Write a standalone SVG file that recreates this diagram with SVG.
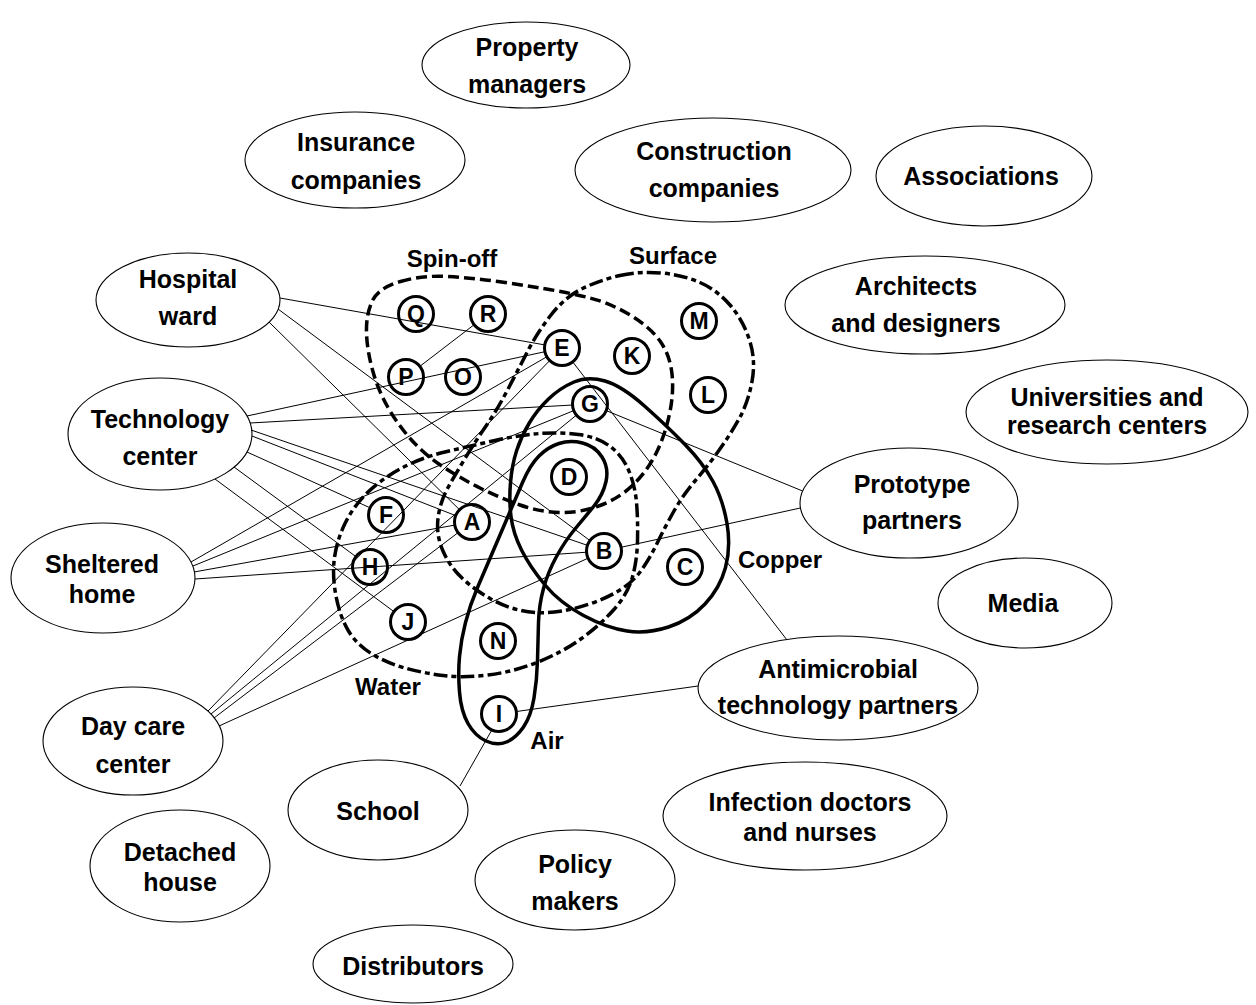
<svg xmlns="http://www.w3.org/2000/svg" width="1256" height="1005" viewBox="0 0 1256 1005">
<style>
.bg{fill:#fff}
.stk ellipse{fill:none;stroke:#000;stroke-width:1.1}
text{font-family:"Liberation Sans",Arial,sans-serif;font-weight:bold;fill:#000;text-anchor:middle}
.t{font-size:25px}
.vl{font-size:24px}
.lt{font-size:23px}
.ven{fill:none;stroke:#000;stroke-width:3.5;stroke-linejoin:round}
.spin{stroke-dasharray:11 5}
.dd{stroke-dasharray:14 4 5 4}
.lc circle{fill:none;stroke:#000;stroke-width:3}
#connectors line{stroke:#000;stroke-width:1}
</style>
<rect class="bg" x="0" y="0" width="1256" height="1005"/>

<g id="connectors">
<line x1="280" y1="298" x2="545.3" y2="345"/>
<line x1="278" y1="309" x2="590.4" y2="540.9"/>
<line x1="269" y1="322" x2="459.9" y2="510.1"/>
<line x1="247" y1="416" x2="545.4" y2="351.6"/>
<line x1="250" y1="423" x2="573" y2="405"/>
<line x1="251" y1="430" x2="587.9" y2="545.5"/>
<line x1="252" y1="436" x2="456.2" y2="515.8"/>
<line x1="247" y1="452" x2="370.5" y2="508"/>
<line x1="234" y1="467" x2="356.3" y2="556.9"/>
<line x1="215" y1="479" x2="394.3" y2="611.9"/>
<line x1="191" y1="562" x2="547.3" y2="356.5"/>
<line x1="193" y1="566" x2="574.3" y2="410.4"/>
<line x1="194" y1="572" x2="455.3" y2="525"/>
<line x1="195" y1="579" x2="587" y2="552.2"/>
<line x1="208" y1="711" x2="550.1" y2="360.2"/>
<line x1="211" y1="714" x2="576.8" y2="414.8"/>
<line x1="214" y1="718" x2="458.5" y2="532.3"/>
<line x1="219" y1="726" x2="588.5" y2="558"/>
<line x1="474.5" y1="324.4" x2="419.5" y2="366.6"/>
<line x1="572.4" y1="361.5" x2="787" y2="640"/>
<line x1="605.7" y1="410.4" x2="802.6" y2="491"/>
<line x1="620.6" y1="547.4" x2="800.4" y2="508"/>
<line x1="515.8" y1="711.6" x2="698" y2="686"/>
<line x1="492.1" y1="729.5" x2="460" y2="786"/>
</g>

<g id="venn-spinoff">
<path class="ven spin" d="M400.5,281.5 Q423,275 448,276.5 Q473,278 498,281.5 Q523,285 546.5,289 Q570,293 590,298 Q610,303 630,315 Q650,327 660,341 Q670,355 672,374 Q674,393 669.5,414 Q665,435 656.5,452.5 Q648,470 634,484 Q620,498 600,505.5 Q580,513 560,512.5 Q540,512 520,505 Q500,498 480,488 Q460,478 442.5,466.5 Q425,455 411.5,440 Q398,425 388,407.5 Q378,390 372.5,370 Q367,350 366.5,332.5 Q366,315 372,301.5 Q378,288 400.5,281.5 Z"/>
<text class="vl" x="452" y="267">Spin-off</text>
</g>
<g id="venn-surface">
<path class="ven dd" d="M620,275.5 Q640,271 661.5,273 Q683,275 700,282.5 Q717,290 730,305 Q743,320 749.5,340 Q756,360 752,381.5 Q748,403 739,419 Q730,435 718.5,451 Q707,467 695,481 Q683,495 674,511 Q665,527 657.5,542.5 Q650,558 641.5,570 Q633,582 620,590 Q607,598 589.5,604 Q572,610 554.5,612 Q537,614 521,610.5 Q505,607 490,598.5 Q475,590 462.5,578.5 Q450,567 443,551 Q436,535 438,518.5 Q440,502 447.5,488.5 Q455,475 465,458.5 Q475,442 486,426 Q497,410 507,391 Q517,372 527,352.5 Q537,333 551,315 Q565,297 582.5,288.5 Q600,280 620,275.5 Z"/>
<text class="vl" x="673" y="264">Surface</text>
</g>
<g id="venn-water">
<path class="ven dd" d="M366.5,493.5 Q380,480 400,469 Q420,458 445,452 Q470,446 495,440.5 Q520,435 540,433.5 Q560,432 578.5,434.5 Q597,437 609.5,446 Q622,455 628.5,470 Q635,485 636.5,502.5 Q638,520 637.5,541 Q637,562 632,578.5 Q627,595 613.5,610 Q600,625 581.5,638.5 Q563,652 538,662 Q513,672 488,675 Q463,678 443,675.5 Q423,673 405,668 Q387,663 372,654 Q357,645 348.5,631 Q340,617 336,596 Q332,575 334.5,557.5 Q337,540 345,523.5 Q353,507 366.5,493.5 Z"/>
<text class="vl" x="388" y="695">Water</text>
</g>
<g id="venn-copper">
<path class="ven" d="M574,382 Q588,376 605,381 Q622,386 644.5,406 Q667,426 685,444.5 Q703,463 713,481.5 Q723,500 727,523.5 Q731,547 725.5,567.5 Q720,588 705,604 Q690,620 668.5,627 Q647,634 627,631 Q607,628 583.5,615.5 Q560,603 545,585 Q530,567 521.5,550 Q513,533 511,516.5 Q509,500 510.5,482.5 Q512,465 516.5,451 Q521,437 529,423.5 Q537,410 548.5,399 Q560,388 574,382 Z"/>
<text class="vl" x="780" y="568">Copper</text>
</g>
<g id="venn-air">
<path class="ven" d="M559,443.5 Q570,440 582.5,443 Q595,446 602,457 Q609,468 606,481.5 Q603,495 594,506 Q585,517 575,529 Q565,541 556.5,556.5 Q548,572 543.5,588.5 Q539,605 538.5,622.5 Q538,640 537.5,660 Q537,680 534,698 Q531,716 523.5,727 Q516,738 506.5,742 Q497,746 486,741 Q475,736 468,723.5 Q461,711 459.5,692 Q458,673 459.5,656.5 Q461,640 465.5,622.5 Q470,605 477.5,587.5 Q485,570 492.5,552.5 Q500,535 507.5,517.5 Q515,500 522.5,482.5 Q530,465 539,456 Q548,447 559,443.5 Z"/>
<text class="vl" x="547" y="749">Air</text>
</g>

<g class="lc">
<g id="n-Q"><circle cx="416" cy="314" r="17.5"/><text class="lt" x="416" y="322.3">Q</text></g>
<g id="n-R"><circle cx="488" cy="314" r="17.5"/><text class="lt" x="488" y="322.3">R</text></g>
<g id="n-E"><circle cx="562" cy="348" r="17.5"/><text class="lt" x="562" y="356.3">E</text></g>
<g id="n-K"><circle cx="632" cy="356" r="17.5"/><text class="lt" x="632" y="364.3">K</text></g>
<g id="n-M"><circle cx="699" cy="321" r="17.5"/><text class="lt" x="699" y="329.3">M</text></g>
<g id="n-P"><circle cx="406" cy="377" r="17.5"/><text class="lt" x="406" y="385.3">P</text></g>
<g id="n-O"><circle cx="463" cy="377" r="17.5"/><text class="lt" x="463" y="385.3">O</text></g>
<g id="n-G"><circle cx="590" cy="404" r="17.5"/><text class="lt" x="590" y="412.3">G</text></g>
<g id="n-L"><circle cx="708" cy="395" r="17.5"/><text class="lt" x="708" y="403.3">L</text></g>
<g id="n-D"><circle cx="569" cy="477" r="17.5"/><text class="lt" x="569" y="485.3">D</text></g>
<g id="n-F"><circle cx="386" cy="515" r="17.5"/><text class="lt" x="386" y="523.3">F</text></g>
<g id="n-A"><circle cx="472" cy="522" r="17.5"/><text class="lt" x="472" y="530.3">A</text></g>
<g id="n-B"><circle cx="604" cy="551" r="17.5"/><text class="lt" x="604" y="559.3">B</text></g>
<g id="n-C"><circle cx="685" cy="567" r="17.5"/><text class="lt" x="685" y="575.3">C</text></g>
<g id="n-H"><circle cx="370" cy="567" r="17.5"/><text class="lt" x="370" y="575.3">H</text></g>
<g id="n-J"><circle cx="408" cy="622" r="17.5"/><text class="lt" x="408" y="630.3">J</text></g>
<g id="n-N"><circle cx="498" cy="641" r="17.5"/><text class="lt" x="498" y="649.3">N</text></g>
<g id="n-I"><circle cx="499" cy="714" r="17.5"/><text class="lt" x="499" y="722.3">I</text></g>
</g>

<g class="stk">
<g id="property-managers"><ellipse cx="526" cy="65" rx="104" ry="43"/><text class="t" x="527" y="56">Property</text><text class="t" x="527" y="93">managers</text></g>
<g id="insurance-companies"><ellipse cx="355" cy="160" rx="110" ry="48"/><text class="t" x="356" y="151">Insurance</text><text class="t" x="356" y="189">companies</text></g>
<g id="construction-companies"><ellipse cx="713" cy="170" rx="138" ry="52"/><text class="t" x="714" y="160">Construction</text><text class="t" x="714" y="197">companies</text></g>
<g id="associations"><ellipse cx="984" cy="176" rx="108" ry="50"/><text class="t" x="981" y="185">Associations</text></g>
<g id="hospital-ward"><ellipse cx="188" cy="300" rx="92" ry="47"/><text class="t" x="188" y="288">Hospital</text><text class="t" x="188" y="325">ward</text></g>
<g id="architects"><ellipse cx="925" cy="305" rx="140" ry="49"/><text class="t" x="916" y="295">Architects</text><text class="t" x="916" y="332">and designers</text></g>
<g id="universities"><ellipse cx="1107" cy="412" rx="141" ry="52"/><text class="t" x="1107" y="406">Universities and</text><text class="t" x="1107" y="434">research centers</text></g>
<g id="technology-center"><ellipse cx="160" cy="434" rx="92" ry="56"/><text class="t" x="160" y="428">Technology</text><text class="t" x="160" y="465">center</text></g>
<g id="prototype-partners"><ellipse cx="909" cy="503" rx="109" ry="55"/><text class="t" x="912" y="493">Prototype</text><text class="t" x="912" y="529">partners</text></g>
<g id="sheltered-home"><ellipse cx="103" cy="578" rx="92" ry="55"/><text class="t" x="102" y="573">Sheltered</text><text class="t" x="102" y="603">home</text></g>
<g id="media"><ellipse cx="1025" cy="603" rx="87" ry="45"/><text class="t" x="1023" y="612">Media</text></g>
<g id="antimicrobial"><ellipse cx="838" cy="688" rx="140" ry="52"/><text class="t" x="838" y="678">Antimicrobial</text><text class="t" x="838" y="714">technology partners</text></g>
<g id="day-care-center"><ellipse cx="133" cy="741" rx="90" ry="54"/><text class="t" x="133" y="735">Day care</text><text class="t" x="133" y="773">center</text></g>
<g id="school"><ellipse cx="378" cy="810" rx="90" ry="50"/><text class="t" x="378" y="820">School</text></g>
<g id="infection-doctors"><ellipse cx="805" cy="816" rx="142" ry="54"/><text class="t" x="810" y="811">Infection doctors</text><text class="t" x="810" y="841">and nurses</text></g>
<g id="detached-house"><ellipse cx="180" cy="866" rx="90" ry="56"/><text class="t" x="180" y="861">Detached</text><text class="t" x="180" y="891">house</text></g>
<g id="policy-makers"><ellipse cx="575" cy="880" rx="100" ry="50"/><text class="t" x="575" y="873">Policy</text><text class="t" x="575" y="910">makers</text></g>
<g id="distributors"><ellipse cx="413" cy="964" rx="100" ry="39"/><text class="t" x="413" y="975">Distributors</text></g>
</g>
</svg>
